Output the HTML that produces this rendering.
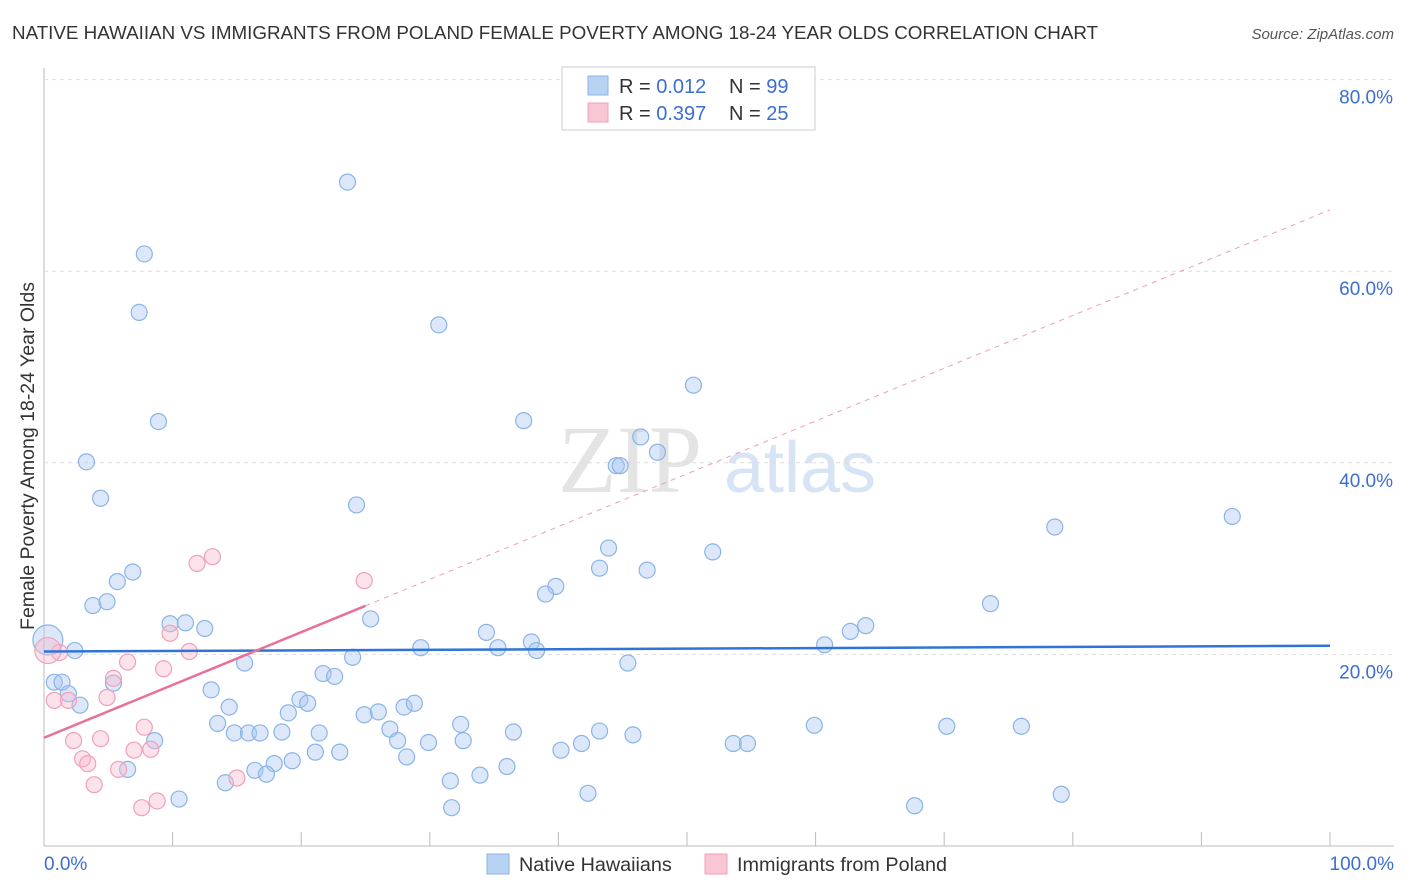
<!DOCTYPE html>
<html><head><meta charset="utf-8"><style>
body{margin:0;background:#fff;font-family:"Liberation Sans",sans-serif;}
svg{display:block}
</style></head><body>
<svg id="chart" width="1406" height="892">
<text x="12" y="39" font-size="18.8" fill="#333">NATIVE HAWAIIAN VS IMMIGRANTS FROM POLAND FEMALE POVERTY AMONG 18-24 YEAR OLDS CORRELATION CHART</text>
<text x="1394" y="39" font-size="15" fill="#555" font-style="italic" text-anchor="end">Source: ZipAtlas.com</text>
<text x="630" y="492" font-size="96" fill="#e4e4e4" font-family="Liberation Serif" text-anchor="middle">ZIP</text>
<text x="800" y="492" font-size="72" fill="#d6e4f5" text-anchor="middle">atlas</text>
<text transform="translate(34,456) rotate(-90)" font-size="19.5" fill="#333" text-anchor="middle">Female Poverty Among 18-24 Year Olds</text>
<g id="grid"></g><g id="pts"></g><g id="trend"></g>
<g>
<rect x="562" y="67" width="253" height="63" fill="#fff" stroke="#ccc"/>
<rect x="588" y="76" width="20" height="19" fill="#b8d2f2" stroke="#8ab4e8"/>
<rect x="588" y="103" width="20" height="19" fill="#f9c6d4" stroke="#f0a0b8"/>
<text x="619" y="93" font-size="20" fill="#333">R = <tspan fill="#3a6fd0">0.012</tspan></text>
<text x="729" y="93" font-size="20" fill="#333">N = <tspan fill="#3a6fd0">99</tspan></text>
<text x="619" y="120" font-size="20" fill="#333">R = <tspan fill="#3a6fd0">0.397</tspan></text>
<text x="729" y="120" font-size="20" fill="#333">N = <tspan fill="#3a6fd0">25</tspan></text>
</g>
<g>
<rect x="487" y="854" width="22" height="20" fill="#b8d2f2" stroke="#8ab4e8"/>
<text x="519" y="871" font-size="19.8" fill="#333">Native Hawaiians</text>
<rect x="705" y="854" width="22" height="20" fill="#f9c6d4" stroke="#f0a0b8"/>
<text x="737" y="871" font-size="19.8" fill="#333">Immigrants from Poland</text>
</g>
</svg>
<script>
const yTicks=[20,40,60,80];
const xTickLabels=["0.0%","100.0%"];
const blueX=[23.6,7.8,7.4,30.7,50.5,8.9,37.3,46.4,47.7,44.5,44.8,3.3,4.4,24.3,78.6,92.4,43.9,52,6.9,5.7,43.2,46.9,39.8,39,3.8,4.9,73.6,9.8,11,12.5,25.4,63.9,62.7,34.4,37.9,38.3,29.3,35.3,60.7,2.4,24,15.6,45.4,0.8,1.4,5.4,21.7,22.6,1.9,2.8,13,19.9,20.5,14.4,19,28,28.8,24.9,26,13.5,32.4,26.9,14.8,15.9,16.8,18.5,21.4,36.5,43.2,59.9,70.2,76,27.5,29.9,32.6,45.8,8.6,41.8,53.6,54.7,21.1,23,40.2,28.2,19.3,17.9,6.5,16.4,17.3,36,33.9,31.6,14.1,10.5,42.3,79.1,31.7,67.7,0.3];
const blueY=[69.3,61.8,55.7,54.4,48.1,44.3,44.4,42.7,41.1,39.7,39.7,40.1,36.3,35.6,33.3,34.4,31.1,30.7,28.6,27.6,29,28.8,27.1,26.3,25.1,25.5,25.3,23.2,23.3,22.7,23.7,23,22.4,22.3,21.3,20.4,20.7,20.7,21,20.4,19.7,19.1,19.1,17.1,17.1,17,18,17.7,15.9,14.7,16.3,15.3,14.9,14.5,13.9,14.5,14.9,13.7,14,12.8,12.7,12.2,11.8,11.8,11.8,11.9,11.8,11.9,12,12.6,12.5,12.5,11,10.8,11,11.6,11,10.7,10.7,10.7,9.8,9.8,10,9.3,8.9,8.6,8,7.9,7.5,8.3,7.4,6.8,6.6,4.9,5.5,5.4,4,4.2,21.5];
const pinkX=[13.1,11.9,24.9,9.8,11.3,1.2,0.3,6.5,9.3,5.4,4.9,0.8,1.9,7.8,2.3,4.4,7,8.3,3,3.4,5.8,15,3.9,8.8,7.6];
const pinkY=[30.2,29.5,27.7,22.2,20.3,20.2,20.4,19.2,18.5,17.5,15.5,15.2,15.2,12.4,11,11.2,10,10.1,9.1,8.6,8,7.1,6.4,4.7,4];
const blueTrend=[20.3,20.9];
const pinkTrend=[11.3,66.4];
const X=v=>44+v*12.86, Y=v=>846-v*9.58;
const NS="http://www.w3.org/2000/svg";
function mk(tag,attrs,parent){const e=document.createElementNS(NS,tag);for(const k in attrs)e.setAttribute(k,attrs[k]);parent.appendChild(e);return e;}
const grid=document.getElementById('grid');
const ax=mk('line',{x1:44,y1:68,x2:44,y2:846,stroke:'#bbb'},grid);


const bx=mk('line',{x1:44,y1:846,x2:1394,y2:846,stroke:'#bbb'},grid);


yTicks.forEach(t=>{
 const g=mk('line',{x1:44,y1:Y(t),x2:1394,y2:Y(t),stroke:'#ddd','stroke-dasharray':'4,4'},grid);
 
 
 const l=mk('text',{x:1393,y:Y(t)+24,'font-size':19,fill:'#3a6fd0','text-anchor':'end'},grid);
 l.textContent=t.toFixed(1)+'%';
 
 
});
for(let i=0;i<=10;i++){
 const t=mk('line',{x1:X(i*10),y1:832,x2:X(i*10),y2:846,stroke:'#bbb'},grid);
 
 
}
[[0,xTickLabels[0],'start',44],[100,xTickLabels[1],'end',1394]].forEach(a=>{
 const l=mk('text',{x:a[3],y:870,'font-size':19,fill:'#3a6fd0','text-anchor':a[2]},grid);
 l.textContent=a[1];
 
 
});
const pts=document.getElementById('pts');
blueX.forEach((v,i)=>{
 const big=i===blueX.length-1;
 const c=mk('circle',{cx:X(v),cy:Y(blueY[i]),r:big?15:8,fill:'rgba(168,198,240,0.4)',stroke:'#8ab4e8','stroke-width':1.2},pts);
 
 
});
pinkX.forEach((v,i)=>{
 const big=i===6;
 const c=mk('circle',{cx:X(v),cy:Y(pinkY[i]),r:big?13:8,fill:'rgba(248,186,204,0.4)',stroke:'#f0a0b8','stroke-width':1.2},pts);
 
 
});
const tr=document.getElementById('trend');
const bl=mk('line',{x1:X(0),y1:Y(blueTrend[0]),x2:X(100),y2:Y(blueTrend[1]),stroke:'#2f74d6','stroke-width':2.5},tr);


const f=v=>pinkTrend[0]+(pinkTrend[1]-pinkTrend[0])*v/100;
const pd=mk('line',{x1:X(25),y1:Y(f(25)),x2:X(100),y2:Y(f(100)),stroke:'#eaa0b8','stroke-width':1,'stroke-dasharray':'5,5'},tr);


const pl=mk('line',{x1:X(0),y1:Y(f(0)),x2:X(25),y2:Y(f(25)),stroke:'#e8709a','stroke-width':2.5},tr);


</script>
</body></html>
